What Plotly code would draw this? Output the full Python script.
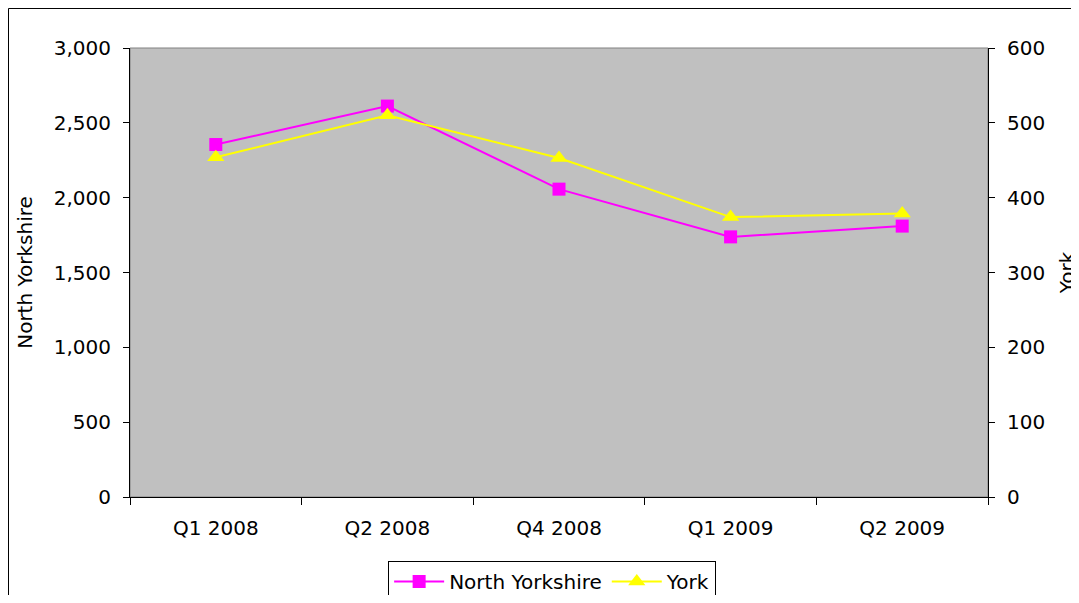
import plotly.graph_objects as go

# quarters and values
quarters = ['Q1 2008', 'Q2 2008', 'Q4 2008', 'Q1 2009', 'Q2 2009']
north_yorkshire = [2355, 2612, 2057, 1738, 1810]
york = [454, 510, 453, 374, 379]

font_name = 'DejaVu Sans, Verdana, sans-serif'

fig = go.Figure()

fig.add_trace(go.Scatter(
    x=quarters, y=north_yorkshire,
    name='North Yorkshire',
    mode='lines+markers',
    line={'color': '#FF00FF', 'width': 2},
    marker={'symbol': 'square', 'size': 13, 'color': '#FF00FF'},
    yaxis='y',
))

fig.add_trace(go.Scatter(
    x=quarters, y=york,
    name='York',
    mode='lines+markers',
    line={'color': '#FFFF00', 'width': 2},
    marker={'symbol': 'triangle-up', 'size': 15, 'color': '#FFFF00'},
    yaxis='y2',
))

axis_font = {'family': font_name, 'size': 20, 'color': 'black'}

# page body adds an 8px margin, so the figure is made smaller to fit the window
fig.update_layout(
    width=1071, height=587,
    margin={'l': 122, 'r': 91, 't': 40, 'b': 98, 'autoexpand': False},
    paper_bgcolor='white',
    plot_bgcolor='#C0C0C0',
    font=axis_font,
    xaxis={
        'type': 'category',
        'range': [-0.5, len(quarters) - 0.5],
        'showline': True, 'linecolor': 'black', 'linewidth': 1,
        'ticks': 'outside', 'tickson': 'boundaries', 'ticklen': 7,
        'tickcolor': 'black',
        'showgrid': False, 'automargin': False,
        'tickfont': axis_font,
        'ticklabelstandoff': 13,
    },
    yaxis={
        'title': {'text': 'North Yorkshire', 'font': axis_font, 'standoff': 15},
        'range': [0, 3000], 'dtick': 500, 'tickformat': ',d',
        'showline': True, 'linecolor': 'black', 'linewidth': 1,
        'ticks': 'outside', 'ticklen': 6, 'tickcolor': 'black',
        'showgrid': False, 'zeroline': False, 'automargin': False,
        'tickfont': axis_font,
        'ticklabelstandoff': 8,
    },
    yaxis2={
        'title': {'text': 'York', 'font': axis_font, 'standoff': 28},
        'range': [0, 600], 'dtick': 100,
        'overlaying': 'y', 'side': 'right',
        'showline': True, 'linecolor': 'black', 'linewidth': 1,
        'ticks': 'outside', 'ticklen': 6, 'tickcolor': 'black',
        'showgrid': False, 'zeroline': False, 'automargin': False,
        'tickfont': axis_font,
        'ticklabelstandoff': 8,
    },
    legend={
        'orientation': 'h',
        'x': 0.492, 'xanchor': 'center',
        'y': -0.1425, 'yanchor': 'top',
        'bordercolor': 'black', 'borderwidth': 1,
        'bgcolor': 'white',
        'font': axis_font,
        'itemwidth': 50,
    },
    shapes=[
        # grey frame of the plot area
        {'type': 'rect', 'xref': 'paper', 'yref': 'paper',
         'x0': 0, 'x1': 1, 'y0': 0, 'y1': 1,
         'line': {'color': '#808080', 'width': 1}, 'layer': 'below'},
        # outer chart border (cropped at right and bottom)
        {'type': 'rect', 'xref': 'paper', 'yref': 'paper',
         'x0': -0.1416, 'x1': 1.2, 'y0': -0.4, 'y1': 1.088,
         'line': {'color': 'black', 'width': 1}},
    ],
)

fig.write_html('out.html')
